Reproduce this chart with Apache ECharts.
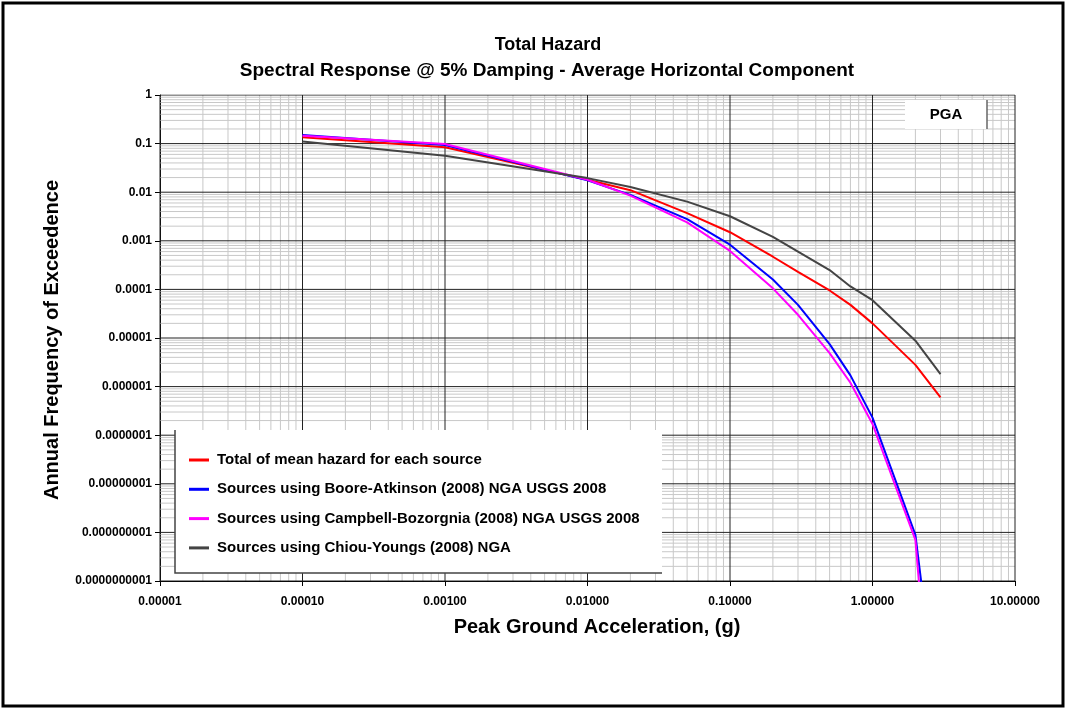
<!DOCTYPE html>
<html>
<head>
<meta charset="utf-8">
<script src="https://cdn.jsdelivr.net/npm/echarts@6/dist/echarts.min.js"></script>
<style>
html,body{margin:0;padding:0;background:#fff;}
#chart{width:1068px;height:709px;}
</style>
</head>
<body>
<div id="chart"></div>
<script>
// ---- data ----
const pga = [0.0001, 0.001, 0.01, 0.02, 0.05, 0.1, 0.2, 0.3, 0.5, 0.7, 1.0, 2.0, 3.0];
const totalMean = [0.135, 0.084, 0.018, 0.011, 0.0037, 0.0015, 4.7e-4, 2.3e-4, 9.5e-5, 4.8e-5, 2.0e-5, 2.8e-6, 6e-7];
const booreAtkinson = [0.15, 0.094, 0.0175, 0.0088, 0.0028, 0.00083, 1.6e-4, 4.8e-5, 7.5e-6, 1.7e-6, 2.3e-7, 8.9e-10, 6e-14];
const campbellBozorgnia = [0.145, 0.098, 0.018, 0.0085, 0.0024, 0.00062, 1.05e-4, 3e-5, 4.9e-6, 1.2e-6, 1.7e-7, 7e-10, 5e-16];
const chiouYoungs = [0.11, 0.056, 0.0195, 0.0128, 0.0064, 0.0032, 0.0012, 6e-4, 2.5e-4, 1.15e-4, 6e-5, 8.8e-6, 1.8e-6];
const seriesNames = [
  'Total of mean hazard for each source',
  'Sources using Boore-Atkinson (2008) NGA USGS 2008',
  'Sources using Campbell-Bozorgnia (2008) NGA USGS 2008',
  'Sources using Chiou-Youngs (2008) NGA'
];
const xTickLabels = ['0.00001','0.00010','0.00100','0.01000','0.10000','1.00000','10.00000'];
const yTickLabels = ['0.0000000001','0.000000001','0.00000001','0.0000001','0.000001','0.00001','0.0001','0.001','0.01','0.1','1'];
const titleLines = ['Total Hazard', 'Spectral Response @ 5% Damping - Average Horizontal Component'];
const xTitle = 'Peak Ground Acceleration, (g)';
const yTitle = 'Annual Frequency of Exceedence';
const boxLabel = 'PGA';

// ---- build ----
const FONT = '"Liberation Sans", Arial, sans-serif';
const colors = ['#ff0000', '#0000ff', '#ff00ff', '#444444'];
const values = [totalMean, booreAtkinson, campbellBozorgnia, chiouYoungs];
const X_MIN = 1e-5, X_MAX = 10, Y_MIN = 1e-10, Y_MAX = 1;

function pairs(ys) { return pga.map((x, i) => [x, ys[i]]); }

// grid-line positions at decades (major) and 2..9 multiples (minor)
const xMinor = [], yMinor = [], xMajor = [], yMajor = [];
for (let d = -5; d <= 1; d++) {
  xMajor.push(Math.pow(10, d));
  if (d < 1) for (let k = 2; k <= 9; k++) xMinor.push(k * Math.pow(10, d));
}
for (let d = -10; d <= 0; d++) {
  yMajor.push(Math.pow(10, d));
  if (d < 0) for (let k = 2; k <= 9; k++) yMinor.push(k * Math.pow(10, d));
}

function gridLineData(xs, ys) {
  const out = [];
  xs.forEach(x => { out.push([x, Y_MIN], [x, Y_MAX], null); });
  ys.forEach(y => { out.push([X_MIN, y], [X_MAX, y], null); });
  return out;
}

function gridSeries(xs, ys, color, z) {
  return {
    type: 'line', data: gridLineData(xs, ys), z: z, silent: true,
    symbol: 'none', showSymbol: false, connectNulls: false, clip: true,
    lineStyle: { color: color, width: 1 },
    emphasis: { disabled: true }, tooltip: { show: false }
  };
}

const chart = echarts.init(document.getElementById('chart'), null, { renderer: 'canvas' });
const option = {
  animation: false,
  backgroundColor: '#ffffff',
  grid: { left: 160, right: 53, top: 95, bottom: 128, containLabel: false },
  xAxis: {
    type: 'log', logBase: 10, min: X_MIN, max: X_MAX, interval: 1,
    axisLine: { show: true, lineStyle: { color: '#000', width: 1 } },
    axisTick: { show: true, length: 5, lineStyle: { color: '#000' } },
    splitLine: { show: false },
    axisLabel: {
      margin: 15, color: '#000', fontFamily: FONT, fontWeight: 'bold', fontSize: 12,
      formatter: v => xTickLabels[Math.round(Math.log10(v)) + 5]
    }
  },
  yAxis: {
    type: 'log', logBase: 10, min: Y_MIN, max: Y_MAX, interval: 1,
    axisLine: { show: true, lineStyle: { color: '#000', width: 1 } },
    axisTick: { show: true, length: 5, lineStyle: { color: '#000' } },
    splitLine: { show: false },
    axisLabel: {
      margin: 8, color: '#000', fontFamily: FONT, fontWeight: 'bold', fontSize: 12,
      formatter: v => yTickLabels[Math.round(Math.log10(v)) + 10]
    }
  },
  legend: {
    data: seriesNames,
    orient: 'vertical',
    left: 184, top: 446,
    itemWidth: 20, itemHeight: 3, itemGap: 11.3,
    icon: 'rect',
    textStyle: { color: '#000', fontFamily: FONT, fontWeight: 'bold', fontSize: 15, lineHeight: 18, padding: [0, 0, 0, 3] },
    z: 10
  },
  graphic: [
    { type: 'rect', shape: { x: 3, y: 3, width: 1060, height: 703 }, style: { fill: 'none', stroke: '#000', lineWidth: 3 }, z: 100, silent: true },
    { type: 'text', style: { text: titleLines[0], x: 548, y: 45, textAlign: 'center', textVerticalAlign: 'middle', font: 'bold 18px ' + FONT, fill: '#000' } },
    { type: 'text', style: { text: titleLines[1], x: 547, y: 71, textAlign: 'center', textVerticalAlign: 'middle', font: 'bold 19px ' + FONT, fill: '#000' } },
    { type: 'text', style: { text: xTitle, x: 597, y: 627, textAlign: 'center', textVerticalAlign: 'middle', font: 'bold 20px ' + FONT, fill: '#000' } },
    { type: 'text', rotation: Math.PI / 2, x: 52, y: 340, style: { text: yTitle, x: 0, y: 0, textAlign: 'center', textVerticalAlign: 'middle', font: 'bold 20px ' + FONT, fill: '#000' } },
    // legend box
    { type: 'rect', shape: { x: 175, y: 430, width: 487, height: 143 }, style: { fill: '#fff', stroke: 'none' }, z: 5, silent: true },
    { type: 'polyline', shape: { points: [[175, 430], [175, 573], [662, 573]] }, style: { stroke: '#444', lineWidth: 1.5, fill: 'none' }, z: 6, silent: true },
    // PGA box
    { type: 'rect', shape: { x: 905, y: 100, width: 82, height: 29 }, style: { fill: '#fff', stroke: 'none' }, z: 5, silent: true },
    { type: 'line', shape: { x1: 987, y1: 100, x2: 987, y2: 129 }, style: { stroke: '#666', lineWidth: 1.5 }, z: 6, silent: true },
    { type: 'text', style: { text: boxLabel, x: 946, y: 115, textAlign: 'center', textVerticalAlign: 'middle', font: 'bold 15px ' + FONT, fill: '#000' }, z: 7 }
  ],
  series: [
    gridSeries(xMinor, yMinor, '#c8c8c8', 0),
    gridSeries(xMajor, yMajor, '#222222', 1)
  ].concat(seriesNames.map((name, i) => ({
    name: name, type: 'line', data: pairs(values[i]), symbol: 'none', showSymbol: false,
    clip: true, z: 3 + i,
    lineStyle: { color: colors[i], width: 2 },
    itemStyle: { color: colors[i] },
    emphasis: { disabled: true }
  })))
};
chart.setOption(option);
</script>
</body>
</html>
